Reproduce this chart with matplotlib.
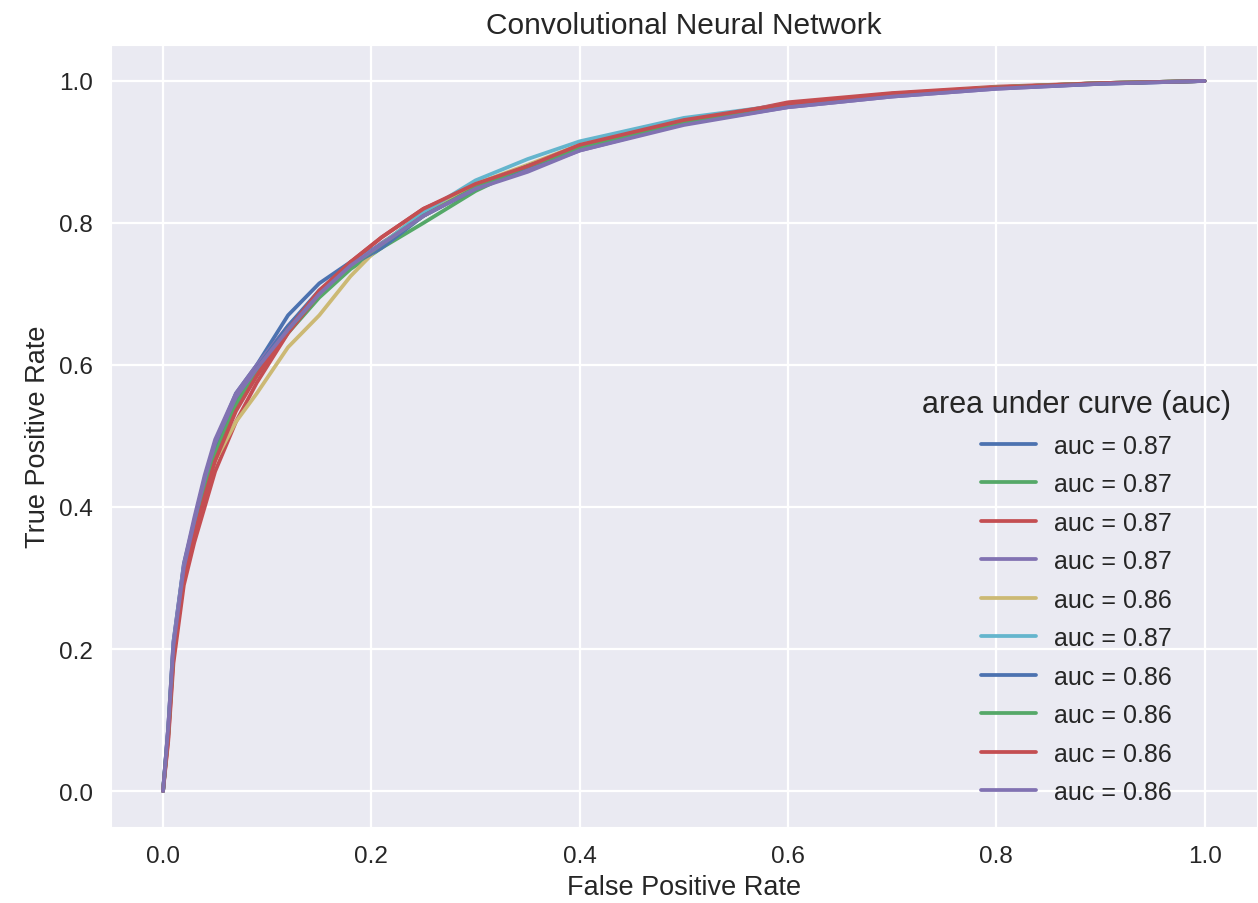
import matplotlib
matplotlib.use("Agg")
import matplotlib.pyplot as plt
import seaborn as sns

# shared false positive rate grid, tpr
fpr = [0, 0.005, 0.01, 0.02, 0.03, 0.04, 0.05, 0.07, 0.09, 0.12, 0.15, 0.18,
       0.21, 0.25, 0.3, 0.35, 0.4, 0.5, 0.6, 0.7, 0.8, 0.9, 1.0]

tpr_1 = [0, 0.09, 0.21, 0.32, 0.38, 0.44, 0.49, 0.56, 0.60, 0.67, 0.715, 0.745, 0.77, 0.815, 0.85, 0.878, 0.905, 0.942, 0.966, 0.981, 0.991, 0.997, 1]
tpr_2 = [0, 0.08, 0.20, 0.30, 0.36, 0.42, 0.47, 0.54, 0.585, 0.645, 0.695, 0.735, 0.765, 0.80, 0.845, 0.88, 0.905, 0.943, 0.968, 0.982, 0.99, 0.997, 1]
tpr_3 = [0, 0.07, 0.18, 0.29, 0.35, 0.40, 0.45, 0.52, 0.575, 0.645, 0.70, 0.745, 0.78, 0.82, 0.852, 0.875, 0.905, 0.94, 0.97, 0.983, 0.992, 0.997, 1]
tpr_4 = [0, 0.09, 0.21, 0.32, 0.385, 0.445, 0.495, 0.56, 0.60, 0.655, 0.70, 0.74, 0.772, 0.81, 0.85, 0.875, 0.902, 0.94, 0.963, 0.978, 0.989, 0.996, 1]
tpr_5 = [0, 0.085, 0.20, 0.31, 0.37, 0.425, 0.465, 0.52, 0.56, 0.625, 0.67, 0.725, 0.77, 0.815, 0.855, 0.882, 0.91, 0.943, 0.966, 0.98, 0.991, 0.997, 1]
tpr_6 = [0, 0.085, 0.205, 0.315, 0.375, 0.435, 0.485, 0.55, 0.59, 0.65, 0.70, 0.74, 0.77, 0.815, 0.86, 0.89, 0.915, 0.948, 0.967, 0.98, 0.99, 0.997, 1]
tpr_7 = [0, 0.085, 0.20, 0.31, 0.37, 0.43, 0.48, 0.55, 0.595, 0.655, 0.705, 0.74, 0.765, 0.81, 0.848, 0.88, 0.905, 0.94, 0.965, 0.98, 0.99, 0.996, 1]
tpr_8 = [0, 0.08, 0.195, 0.305, 0.365, 0.425, 0.475, 0.545, 0.59, 0.65, 0.70, 0.738, 0.77, 0.81, 0.85, 0.88, 0.905, 0.942, 0.965, 0.98, 0.991, 0.997, 1]
tpr_9 = [0, 0.075, 0.19, 0.30, 0.36, 0.415, 0.465, 0.535, 0.585, 0.65, 0.705, 0.745, 0.78, 0.82, 0.855, 0.88, 0.91, 0.945, 0.968, 0.982, 0.991, 0.997, 1]
tpr_10 = [0, 0.09, 0.205, 0.315, 0.38, 0.44, 0.49, 0.555, 0.595, 0.65, 0.70, 0.74, 0.77, 0.81, 0.848, 0.872, 0.902, 0.938, 0.963, 0.978, 0.989, 0.996, 1]

curves = [tpr_1, tpr_2, tpr_3, tpr_4, tpr_5, tpr_6, tpr_7, tpr_8, tpr_9, tpr_10]
aucs = [0.87, 0.87, 0.87, 0.87, 0.86, 0.87, 0.86, 0.86, 0.86, 0.86]

# old seaborn "deep" palette
colors = ["#4C72B0", "#55A868", "#C44E52", "#8172B2", "#CCB974", "#64B5CD"]

sns.set_style("darkgrid")
plt.rcParams['font.family'] = ['Liberation Sans', 'DejaVu Sans']
plt.rcParams['text.color'] = '.15'
plt.rcParams['axes.labelcolor'] = '.15'
plt.rcParams['xtick.color'] = '.15'
plt.rcParams['ytick.color'] = '.15'

fig = plt.figure(figsize=(12.58, 9.04), dpi=100)
ax = fig.add_axes([0.0882, 0.0846, 0.9108, 0.864])

for i, tpr in enumerate(curves):
    ax.plot(fpr, tpr, color=colors[i % len(colors)], lw=2.7,
            label=f'auc = {aucs[i]:.2f}')

ax.set_xlim(-0.05, 1.05)
ax.set_ylim(-0.05, 1.05)
ax.set_xticks([0, 0.2, 0.4, 0.6, 0.8, 1.0])
ax.set_yticks([0, 0.2, 0.4, 0.6, 0.8, 1.0])
ax.tick_params(labelsize=17.5, length=0, pad=13)
ax.grid(color='white', lw=1.6)

ax.set_title('Convolutional Neural Network', fontsize=21.5, pad=9)
ax.set_xlabel('False Positive Rate', fontsize=19.5, labelpad=5)
ax.set_ylabel('True Positive Rate', fontsize=19.5, labelpad=6)

leg = ax.legend(loc='lower right', frameon=False, fontsize=18,
                title='area under curve (auc)', title_fontsize=22,
                handlelength=2.2, handletextpad=0.72, labelspacing=0.58,
                bbox_to_anchor=(0.997, 0.0))

fig.savefig('out.png', dpi=100)
